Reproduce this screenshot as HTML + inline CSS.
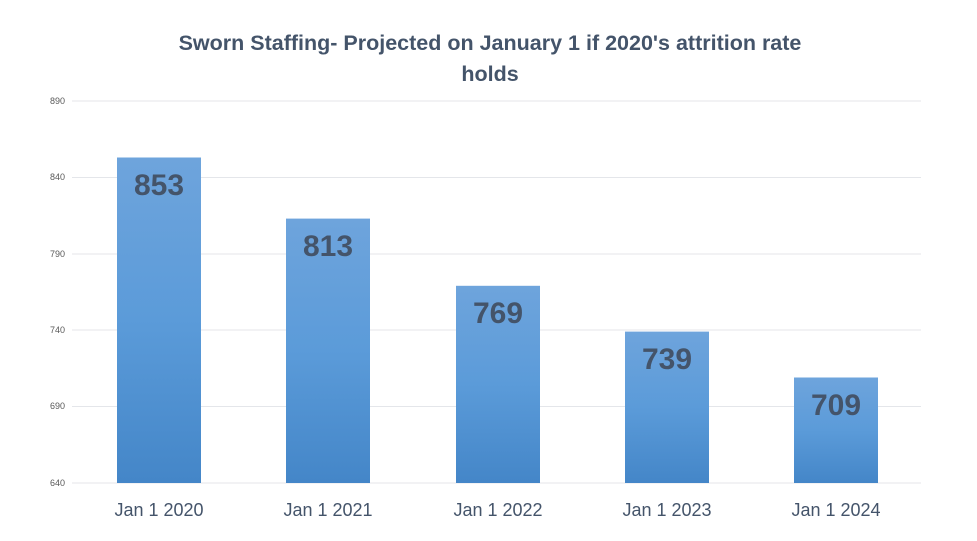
<!DOCTYPE html>
<html><head><meta charset="utf-8"><style>
body{margin:0;background:#fff;}
svg{display:block;font-family:"Liberation Sans",sans-serif;}
</style></head><body>
<svg width="977" height="541" viewBox="0 0 977 541" xmlns="http://www.w3.org/2000/svg">
<defs>
<linearGradient id="g" x1="0" y1="0" x2="0" y2="1">
<stop offset="0" stop-color="#6ea4dc"/>
<stop offset="0.5" stop-color="#5b9bd9"/>
<stop offset="1" stop-color="#4486c8"/>
</linearGradient>
</defs>
<rect width="977" height="541" fill="#fff"/>
<text x="490" y="50" text-anchor="middle" font-size="21.5" font-weight="bold" fill="#44546a">Sworn Staffing- Projected on January 1 if 2020's attrition rate</text>
<text x="490" y="81" text-anchor="middle" font-size="21.5" font-weight="bold" fill="#44546a">holds</text>
<g stroke="#e4e6ea" stroke-width="1">
<line x1="72" x2="921" y1="101" y2="101"/>
<line x1="72" x2="921" y1="177.5" y2="177.5"/>
<line x1="72" x2="921" y1="254" y2="254"/>
<line x1="72" x2="921" y1="330" y2="330"/>
<line x1="72" x2="921" y1="406.5" y2="406.5"/>
<line x1="72" x2="921" y1="483" y2="483"/>
</g>
<g font-size="9" fill="#595959" text-anchor="end">
<text x="65" y="104">890</text>
<text x="65" y="180">840</text>
<text x="65" y="257">790</text>
<text x="65" y="333">740</text>
<text x="65" y="409">690</text>
<text x="65" y="486">640</text>
</g>
<g fill="url(#g)">
<rect x="117" y="157.5" width="84" height="325.5"/>
<rect x="286" y="218.6" width="84" height="264.4"/>
<rect x="456" y="285.8" width="84" height="197.2"/>
<rect x="625" y="331.6" width="84" height="151.4"/>
<rect x="794" y="377.5" width="84" height="105.5"/>
</g>
<g font-size="30" font-weight="bold" fill="#44546a" text-anchor="middle">
<text x="159" y="195">853</text>
<text x="328" y="256">813</text>
<text x="498" y="323">769</text>
<text x="667" y="369">739</text>
<text x="836" y="415">709</text>
</g>
<g font-size="18" fill="#44546a" text-anchor="middle">
<text x="159" y="516">Jan 1 2020</text>
<text x="328" y="516">Jan 1 2021</text>
<text x="498" y="516">Jan 1 2022</text>
<text x="667" y="516">Jan 1 2023</text>
<text x="836" y="516">Jan 1 2024</text>
</g>
</svg>
</body></html>
